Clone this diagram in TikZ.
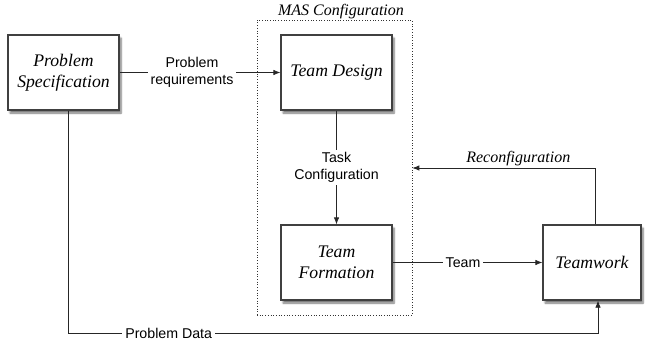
\documentclass[tikz,border=0pt]{standalone}
\usepackage{fontspec}
\setmainfont{Liberation Serif}
\setsansfont{Liberation Sans}
\usetikzlibrary{shadows.blur,arrows.meta}
\begin{document}
\begin{tikzpicture}[x=1pt,y=-1pt,
 box/.style={draw=black!75, line width=1.3pt, fill=white, minimum width=111pt, minimum height=75pt, align=center,
   font=\fontsize{17.7}{21}\selectfont\itshape,
   blur shadow={shadow xshift=2pt, shadow yshift=-3pt, shadow blur steps=6, shadow opacity=55}},
 lbl/.style={fill=white, font=\sffamily\fontsize{14.2}{16.5}\selectfont, align=center, inner sep=3pt},
 ital/.style={font=\fontsize{16}{19}\selectfont\itshape},
 conn/.style={draw=black!85, line width=0.8pt},
 arr/.style={conn, -{Latex[length=7pt,width=5.5pt]}}]
\useasboundingbox (0,0) rectangle (647,342);
\node[draw=black!80, dotted, line width=0.7pt, minimum width=155pt, minimum height=295pt] (mas) at (334.5,167.5) {};
\node[ital] (mast) at (341,12) {MAS Configuration};
\node[box] (ps) at (63.5,72.5) {Problem\\Specification};
\node[box] (td) at (336.5,72.5) {Team Design};
\node[box] (tf) at (336.5,262.5) {Team\\Formation};
\node[box, minimum width=98pt] (tw) at (592,262.5) {Teamwork};
\draw[arr] (ps.east) -- node[lbl, pos=0.45] {Problem\\requirements} (td.west);
\draw[arr] (td.south) -- node[lbl] {Task\\Configuration} (tf.north);
\draw[arr] (tf.east) -- node[lbl, pos=0.47] {Team} (tw.west);
\coordinate (rc) at (595,168);
\draw[arr] (tw.north -| rc) -- (rc) -- node[ital, above, pos=0.42, inner sep=2pt] {Reconfiguration} (mas.east |- rc);
\coordinate (pdl) at (68,333);
\coordinate (pdr) at (598,333);
\draw[arr] (ps.south -| pdl) -- (pdl) -- node[lbl, pos=0.19] {Problem Data} (pdr) -- (tw.south -| pdr);
\end{tikzpicture}
\end{document}
